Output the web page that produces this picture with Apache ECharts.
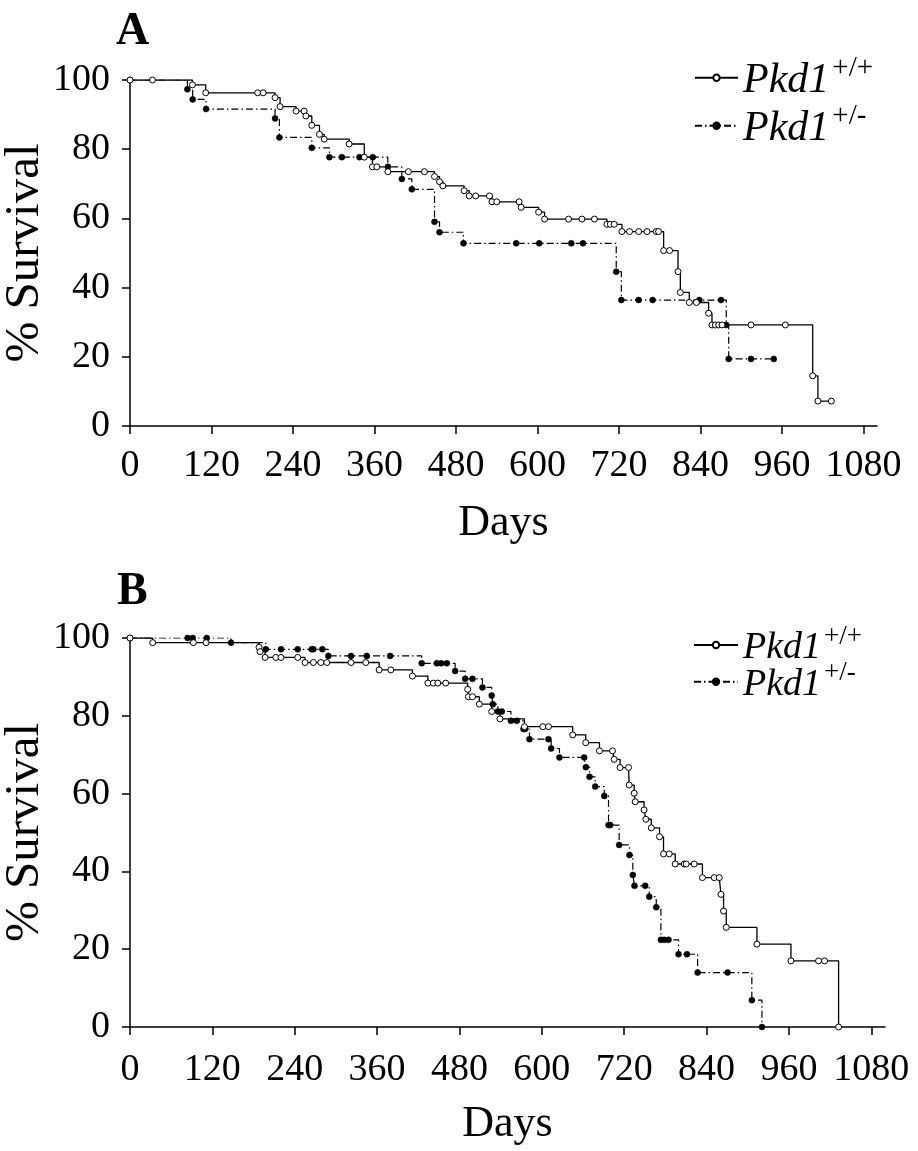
<!DOCTYPE html>
<html>
<head>
<meta charset="utf-8">
<script src="https://cdn.jsdelivr.net/npm/echarts@6/dist/echarts.min.js"></script>
<style>
  html, body { margin: 0; padding: 0; background: #fff; }
  #chart { width: 918px; height: 1151px; }
</style>
</head>
<body>
<div id="chart"></div>
<script>
// ---- tick labels ----
const dayTicks = [0, 120, 240, 360, 480, 600, 720, 840, 960, 1080];
const survTicks = [0, 20, 40, 60, 80, 100];
const seriesNames = ['Pkd1+/+', 'Pkd1+/-'];
const panelLabels = ['A', 'B'];

// ---- Panel A : Pkd1+/+ ----
const aWtDays = [0, 33, 92, 111.5, 188, 196, 213.6, 221, 244.6, 256.4, 259, 267.7, 279, 286, 322.7, 345, 357, 363.5,
  379.7, 410, 433.6, 448.4, 455.8, 460.7, 492, 499.5, 509, 529.4, 533, 540, 573, 576, 601.7, 610.5, 645.8, 665.5, 684,
  702.3, 707.2, 713, 724.4, 735.6, 749, 761.3, 775, 778.4, 785.8, 794.6, 807, 810.4, 823.6, 834, 852, 857, 862, 866.8,
  871.8, 914.5, 965, 1005.3, 1013, 1032.8];
const aWtSurv = [100, 100, 98.6, 96.3, 96.3, 96.3, 94.9, 92.3, 91.0, 91.0, 89.6, 86.9, 84.3, 82.9, 81.5, 77.7, 74.9, 74.9,
  73.5, 73.5, 73.5, 72.1, 70.6, 69.4, 68.0, 66.5, 66.5, 66.5, 64.8, 64.8, 64.8, 63.2, 61.8, 59.8, 59.8, 59.8, 59.8,
  58.3, 58.3, 58.3, 56.2, 56.2, 56.2, 56.2, 56.2, 56.2, 50.7, 50.7, 44.6, 38.6, 35.7, 35.7, 32.6, 29.2, 29.2, 29.2,
  29.2, 29.2, 29.2, 14.5, 7.2, 7.2];

// ---- Panel A : Pkd1+/- ----
const aHetDays = [0, 84.5, 92.3, 112, 213.6, 220, 267.7, 293.7, 312, 337.9, 357.5, 379.7, 400.3, 415, 448.4, 455.8, 491,
  568.7, 602.6, 649.8, 667, 716, 723.5, 749, 769.6, 838.4, 870.3, 878, 881.6, 914.5, 948];
const aHetSurv = [100, 97.3, 94.4, 91.6, 88.9, 83.4, 80.4, 77.7, 77.7, 77.7, 77.7, 74.9, 71.4, 68.4, 59.0, 56.0, 52.8,
  52.8, 52.8, 52.8, 52.8, 44.6, 36.4, 36.4, 36.4, 36.4, 36.4, 29.2, 19.4, 19.4, 19.4];

// ---- Panel B : Pkd1+/+ ----
const bWtDays = [0, 33, 92.3, 110.8, 188, 189.5, 196.8, 212.4, 220, 244.4, 255, 267.2, 278, 286.7, 322, 343.5, 363, 380,
  411.5, 434, 442, 448.5, 460, 492, 493, 499, 509, 527, 539, 574.7, 601.5, 609.7, 645, 664, 684, 703, 705.4, 714, 726.3,
  727.3, 734.6, 736, 749, 751.6, 759.5, 771.5, 777.3, 785.6, 794.3, 807.5, 810.4, 822, 834, 851.2, 858.5, 861, 864.8,
  868.7, 913.4, 963, 1003.2, 1012, 1032.4];
const bWtSurv = [100, 98.8, 98.8, 98.8, 97.6, 96.5, 95.0, 95.0, 95.0, 95.0, 93.7, 93.7, 93.7, 93.7, 93.7, 93.7, 91.8, 91.8,
  90.2, 88.4, 88.4, 88.4, 88.4, 86.8, 84.9, 84.9, 83.0, 81.1, 79.2, 77.2, 77.2, 77.2, 75.1, 73.1, 71.0, 71.0, 68.8, 66.7, 66.7,
  62.2, 60.1, 57.9, 55.8, 53.4, 51.2, 48.9, 44.5, 44.5, 41.9, 41.9, 41.9, 41.9, 38.4, 38.4, 38.4, 34.1, 29.8,
  25.6, 21.3, 17.0, 17.0, 17.0, 0];

// ---- Panel B : Pkd1+/- ----
const bHetDays = [0, 84, 91.4, 111.8, 147.2, 197.8, 220, 244.4, 264.8, 267.2, 280.3, 289, 322, 345, 379, 425, 447, 453.3,
  461.6, 473.7, 488.3, 499, 513.5, 527, 528.6, 536, 541.7, 555, 563.6, 573.3, 575.7, 582, 609.7, 613.6, 625.7, 661.7,
  664.2, 669.5, 677.8, 691, 697.2, 699.6, 712.7, 727.7, 732.6, 735, 750.6, 756.5, 766.7, 773.5, 778.3, 784.6, 799.2,
  811.4, 827, 870.6, 906, 920.7];
const bHetSurv = [100, 100, 100, 100, 98.8, 97.1, 97.1, 97.1, 97.1, 97.1, 97.1, 95.4, 95.4, 95.4, 95.4, 93.5, 93.5, 93.5,
  93.5, 91.5, 89.5, 89.5, 87.3, 85.2, 83.0, 81.1, 81.1, 78.7, 78.7, 76.6, 76.6, 74.0, 74.0, 71.6, 69.3, 69.3,
  66.8, 64.3, 61.8, 59.4, 51.9, 51.9, 46.8, 44.2, 39.1, 36.3, 36.3, 33.5, 30.8, 22.4, 22.4, 22.4, 18.7,
  18.7, 14.0, 14.0, 6.9, 0];

const zip = (xs, ys) => xs.map((x, i) => [x, ys[i]]);
const FONT = 'Liberation Serif, Times New Roman, serif';
const BLACK = '#000';

function xAxisFor(gridIndex, labelMargin) {
  return {
    gridIndex, type: 'value', min: 0, max: 1100,
    name: 'Days', nameLocation: 'middle', nameGap: 75, nameMoveOverlap: false,
    nameTextStyle: { fontFamily: FONT, fontSize: 44, color: BLACK },
    axisLine: { show: true, lineStyle: { color: BLACK, width: 1.5 } },
    axisTick: { show: true, length: 8, inside: false, customValues: dayTicks, lineStyle: { color: BLACK, width: 1.5 } },
    axisLabel: { customValues: dayTicks, formatter: v => String(v), margin: labelMargin, fontFamily: FONT, fontSize: 38, color: BLACK },
    splitLine: { show: false }
  };
}
function yAxisFor(gridIndex) {
  return {
    gridIndex, type: 'value', min: survTicks[0], max: survTicks[survTicks.length - 1], interval: 20,
    name: '% Survival', nameLocation: 'middle', nameGap: 80, nameMoveOverlap: false,
    nameTextStyle: { fontFamily: FONT, fontSize: 49, color: BLACK },
    axisLine: { show: true, lineStyle: { color: BLACK, width: 1.5 } },
    axisTick: { show: true, length: 8, lineStyle: { color: BLACK, width: 1.5 } },
    axisLabel: { margin: 20, formatter: v => String(v), fontFamily: FONT, fontSize: 38, color: BLACK },
    splitLine: { show: false }
  };
}
function wtSeries(idx, data) {
  return {
    name: seriesNames[0], type: 'line', xAxisIndex: idx, yAxisIndex: idx, data, step: 'end',
    symbol: 'circle', symbolSize: 6, showAllSymbol: true, z: 3,
    lineStyle: { color: BLACK, width: 1.3, type: 'solid' },
    itemStyle: { color: '#fff', borderColor: BLACK, borderWidth: 1 }
  };
}
function hetSeries(idx, data) {
  return {
    name: seriesNames[1], type: 'line', xAxisIndex: idx, yAxisIndex: idx, data, step: 'end',
    symbol: 'circle', symbolSize: 6, showAllSymbol: true, z: 2,
    lineStyle: { color: BLACK, width: 1.2, type: [7, 3, 1.5, 3] },
    itemStyle: { color: BLACK, borderColor: BLACK, borderWidth: 0.5 }
  };
}
function legendFor(name, left, top, mainSize, supSize, lh, supLh, itemWidth) {
  return {
    data: [name], left, top, padding: 0, itemWidth, itemHeight: 8, selectedMode: false,
    formatter: n => '{i|' + n.slice(0, 4) + '}{s|' + n.slice(4) + '}',
    textStyle: {
      color: BLACK,
      rich: {
        i: { fontFamily: FONT, fontStyle: 'italic', fontSize: mainSize, lineHeight: lh, verticalAlign: 'bottom', color: BLACK },
        s: { fontFamily: FONT, fontSize: supSize, lineHeight: supLh, verticalAlign: 'top', color: BLACK, padding: [0, 0, 0, 3] }
      }
    }
  };
}

const option = {
  animation: false,
  backgroundColor: '#fff',
  title: [
    { text: panelLabels[0], left: 111, top: 4, textStyle: { fontFamily: FONT, fontWeight: 'bold', fontSize: 46, color: BLACK } },
    { text: panelLabels[1], left: 112, top: 564, textStyle: { fontFamily: FONT, fontWeight: 'bold', fontSize: 46, color: BLACK } }
  ],
  grid: [
    { left: 130, top: 80, width: 747, height: 346, outerBoundsMode: 'none', containLabel: false },
    { left: 130, top: 638, width: 755, height: 389, outerBoundsMode: 'none', containLabel: false }
  ],
  xAxis: [xAxisFor(0, 21), xAxisFor(1, 24)],
  yAxis: [yAxisFor(0), yAxisFor(1)],
  legend: [
    legendFor(seriesNames[0], 694, 53.7, 42, 29, 48, 16, 43),
    legendFor(seriesNames[1], 694, 101.7, 42, 29, 48, 16, 43),
    legendFor(seriesNames[0], 693, 623, 38, 27, 44, 14, 44),
    legendFor(seriesNames[1], 693, 659.7, 38, 27, 44, 14, 44)
  ],
  series: [
    hetSeries(0, zip(aHetDays, aHetSurv)),
    wtSeries(0, zip(aWtDays, aWtSurv)),
    hetSeries(1, zip(bHetDays, bHetSurv)),
    wtSeries(1, zip(bWtDays, bWtSurv))
  ]
};

const chart = echarts.init(document.getElementById('chart'), null, { renderer: 'canvas' });
chart.setOption(option);
</script>
</body>
</html>
